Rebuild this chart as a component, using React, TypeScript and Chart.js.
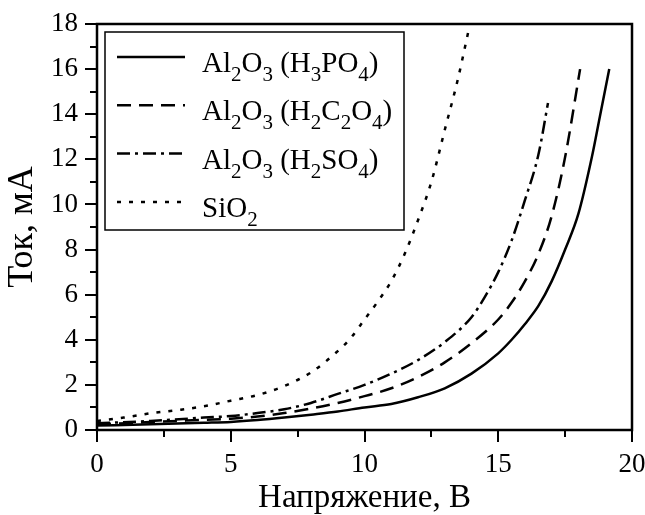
import React, { useEffect, useRef } from 'react';
import { Chart, registerables } from 'chart.js';

Chart.register(...registerables);

const xTitle = 'Напряжение, В';
const yTitle = 'Ток, мА';

const seriesLabels = ['Al_2O_3 (H_3PO_4)', 'Al_2O_3 (H_2C_2O_4)', 'Al_2O_3 (H_2SO_4)', 'SiO_2'];

const h3po4X = [0, 2, 4, 5, 6, 7, 8, 9, 10, 11, 12, 13, 14, 15, 15.5, 16, 16.5, 17, 17.5, 18, 18.5, 18.8, 19.15];
const h3po4Y = [0.2, 0.25, 0.32, 0.36, 0.44, 0.55, 0.68, 0.82, 1.0, 1.15, 1.45, 1.85, 2.5, 3.4, 4.0, 4.7, 5.5, 6.6, 8.0, 9.6, 12.1, 13.9, 16.0];

const h2c2o4X = [0, 2, 4, 5, 6, 7, 8, 9, 10, 11, 12, 13, 14, 15, 15.5, 16, 16.5, 17, 17.5, 18.06];
const h2c2o4Y = [0.25, 0.35, 0.45, 0.5, 0.6, 0.75, 0.95, 1.2, 1.5, 1.85, 2.35, 3.0, 3.85, 4.9, 5.65, 6.6, 7.8, 9.5, 12.1, 16.0];

const h2so4X = [0, 2, 4, 5, 6, 7, 8, 9, 10, 11, 12, 13, 14, 14.5, 15, 15.5, 16, 16.5, 16.86];
const h2so4Y = [0.3, 0.4, 0.55, 0.62, 0.75, 0.92, 1.2, 1.6, 2.0, 2.5, 3.1, 3.9, 5.0, 5.9, 7.0, 8.4, 10.2, 12.2, 14.5];

const sio2X = [0, 1, 2, 3, 4, 5, 6, 7, 8, 9, 9.5, 10, 10.5, 11, 11.5, 12, 12.5, 13, 13.5, 13.87];
const sio2Y = [0.4, 0.55, 0.74, 0.88, 1.05, 1.3, 1.55, 1.95, 2.55, 3.5, 4.1, 4.9, 5.7, 6.6, 7.8, 9.3, 11.0, 13.3, 15.6, 17.6];

const xMin = 0, xMax = 20, xStep = 5;
const yMin = 0, yMax = 18, yStep = 2;
const xMinorTicks = [2.5, 7.5, 12.5, 17.5];
const yMinorTicks = [1, 3, 5, 7, 9, 11, 13, 15, 17];

const FONT = '"Liberation Serif", "Times New Roman", serif';

const zip = (xs: number[], ys: number[]) => xs.map((x, i) => ({ x, y: ys[i] }));

function drawRich(ctx: CanvasRenderingContext2D, text: string, x: number, y: number) {
  let cx = x;
  const parts = text.split(/(_\d)/).filter((p) => p.length);
  for (const p of parts) {
    if (p.startsWith('_')) {
      ctx.font = `21px ${FONT}`;
      ctx.fillText(p.slice(1), cx, y + 9);
      cx += ctx.measureText(p.slice(1)).width;
    } else {
      ctx.font = `29px ${FONT}`;
      ctx.fillText(p, cx, y);
      cx += ctx.measureText(p).width;
    }
  }
}

const framePlugin = {
  id: 'frameAndLegend',
  afterDraw(chart: any) {
    const ctx: CanvasRenderingContext2D = chart.ctx;
    const a = chart.chartArea;
    const xs = chart.scales.x;
    const ys = chart.scales.y;
    ctx.save();
    ctx.strokeStyle = '#000';
    ctx.fillStyle = '#000';
    ctx.lineWidth = 2.5;
    ctx.setLineDash([]);
    ctx.strokeRect(a.left, a.top, a.right - a.left, a.bottom - a.top);
    ctx.lineWidth = 2;
    ctx.beginPath();
    for (const v of xMinorTicks) {
      const px = Math.round(xs.getPixelForValue(v));
      ctx.moveTo(px, a.bottom);
      ctx.lineTo(px, a.bottom + 7);
    }
    for (const v of yMinorTicks) {
      const py = Math.round(ys.getPixelForValue(v));
      ctx.moveTo(a.left, py);
      ctx.lineTo(a.left - 7, py);
    }
    ctx.stroke();
    const bx = a.left + 8;
    const by = a.top + 8;
    const bw = 299;
    const bh = 198;
    ctx.lineWidth = 1.5;
    ctx.strokeRect(bx, by, bw, bh);
    ctx.textBaseline = 'alphabetic';
    ctx.textAlign = 'left';
    chart.data.datasets.forEach((ds: any, i: number) => {
      const ly = by + 25 + i * 48.3;
      ctx.lineWidth = ds.borderWidth;
      ctx.setLineDash(ds.borderDash || []);
      ctx.beginPath();
      ctx.moveTo(bx + 12, ly);
      ctx.lineTo(bx + 80, ly);
      ctx.stroke();
      ctx.setLineDash([]);
      drawRich(ctx, seriesLabels[i], bx + 97, ly + 15);
    });
    ctx.restore();
  },
};

export default function App() {
  const ref = useRef<HTMLCanvasElement>(null);
  useEffect(() => {
    if (!ref.current) return;
    const mk = (xs: number[], ys: number[], dash: number[]) => ({
      data: zip(xs, ys),
      borderColor: '#000',
      backgroundColor: '#000',
      borderWidth: 2.5,
      borderDash: dash,
      pointRadius: 0,
      fill: false,
      cubicInterpolationMode: 'monotone' as const,
    });
    const chart = new Chart(ref.current, {
      type: 'line',
      data: {
        datasets: [
          mk(h3po4X, h3po4Y, []),
          mk(h2c2o4X, h2c2o4Y, [14, 8]),
          mk(h2so4X, h2so4Y, [13, 5, 3, 5]),
          mk(sio2X, sio2Y, [4, 8]),
        ],
      },
      options: {
        responsive: false,
        animation: false,
        layout: { padding: { top: 24, right: 13, left: 0, bottom: 0 } },
        plugins: { legend: { display: false }, tooltip: { enabled: false } },
        scales: {
          x: {
            type: 'linear',
            min: xMin,
            max: xMax,
            afterFit: (s: any) => { s.height = 85; s.paddingRight = 0; s.paddingLeft = 0; },
            ticks: { stepSize: xStep, color: '#000', padding: 7, font: { family: FONT, size: 27 }, maxRotation: 0 },
            grid: { drawOnChartArea: false, drawTicks: true, tickLength: 12, color: '#000', lineWidth: 2 },
            border: { display: false },
            title: { display: true, text: xTitle, color: '#000', font: { family: FONT, size: 33, lineHeight: 1 }, padding: 0 },
          },
          y: {
            type: 'linear',
            min: yMin,
            max: yMax,
            afterFit: (s: any) => { s.width = 97; s.paddingTop = 0; s.paddingBottom = 0; },
            ticks: { stepSize: yStep, color: '#000', padding: 7, font: { family: FONT, size: 27 } },
            grid: { drawOnChartArea: false, drawTicks: true, tickLength: 12, color: '#000', lineWidth: 2 },
            border: { display: false },
            title: { display: true, text: yTitle, color: '#000', font: { family: FONT, size: 36, lineHeight: 1 }, padding: { top: 5, bottom: 0 } },
          },
        },
      },
      plugins: [framePlugin],
    });
    return () => chart.destroy();
  }, []);
  return (
    <div style={{ position: 'fixed', left: 0, top: 0, width: 645, height: 515, background: '#fff' }}>
      <canvas ref={ref} width={645} height={515} style={{ display: 'block' }} />
    </div>
  );
}
